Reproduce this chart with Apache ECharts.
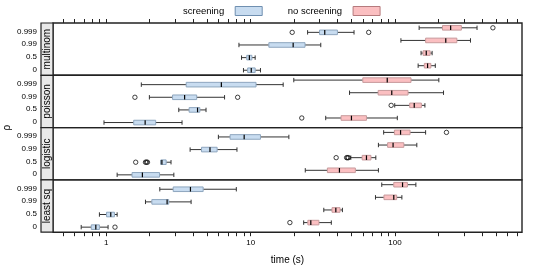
<!DOCTYPE html>
<html><head><meta charset="utf-8">
<script src="https://cdn.jsdelivr.net/npm/echarts@6/dist/echarts.min.js"></script>
<style>html,body{margin:0;padding:0;background:#fff}#c{width:535px;height:267px}</style>
</head><body><div id="c"></div>
<script>
const methods = ['multinom', 'poisson', 'logistic', 'least sq'];
const rhoLabels = ['0', '0.5', '0.99', '0.999'];
const groupNames = ['screening', 'no screening'];
const xTickValues = [0.5,0.6,0.7,0.8,0.9,1,2,3,4,5,6,7,8,9,10,20,30,40,50,60,70,80,90,100,200,300,400,500,600,700];
const xLabelValues = [1, 10, 100];

// rows: [rho index, lower whisker, Q1, median, Q3, upper whisker]
const multinomScreening = [[0,8.92,9.54,10.1,10.75,11.7],[1,8.65,9.40,9.80,10.2,10.75],[2,8.30,13.37,19.7,23.8,30.6],[3,24.8,30.0,32.6,39.9,52.0]];
const multinomNoScreening = [[0,144.5,159.5,168,177,190],[1,151.4,156.2,164.5,175,180.6],[2,109.8,162.8,224.5,267.9,333],[3,146.8,213,242.7,288,369.6]];
const poissonScreening = [[0,0.965,1.55,1.86,2.20,3.35],[1,3.18,3.75,4.29,4.45,4.91],[2,1.99,2.88,3.49,4.23,6.60],[3,1.75,3.58,6.27,10.9,16.8]];
const poissonNoScreening = [[0,33.1,42.3,49.9,63.4,103.7],[1,99.5,126.3,135.8,152.2,161],[2,48.4,76.4,94.9,123,216.6],[3,19.9,59.8,88.3,129,201]];
const logisticScreening = [[0,1.19,1.51,1.78,2.34,2.94],[1,2.39,2.39,2.43,2.60,2.81],[2,3.81,4.57,5.23,5.86,8.04],[3,5.98,7.21,9.02,11.7,18.4]];
const logisticNoScreening = [[0,23.9,34,41.2,53.1,76.7],[1,49.4,59.2,63.4,68.1,73.6],[2,76.7,88.8,96.9,115,141.5],[3,83.4,99,109.2,127,162.8]];
const leastSqScreening = [[0,0.671,0.788,0.847,0.897,1.03],[1,0.897,1.005,1.075,1.14,1.19],[2,1.87,2.07,2.64,2.71,3.87],[3,2.35,2.91,3.83,4.69,7.96]];
const leastSqNoScreening = [[0,23.3,24.9,26.1,29.7,36.2],[1,32.1,36.6,38.9,41.6,43.2],[2,73.2,83.8,98,102.6,111.5],[3,80.9,98,112.7,121.8,139.4]];

// outliers: [rho index, time]
const multinomScreeningOut = [[3,19.4],[3,65.7]];
const multinomNoScreeningOut = [[3,476]];
const poissonScreeningOut = [[2,1.58],[2,8.13]];
const poissonNoScreeningOut = [[0,22.6],[1,94]];
const logisticScreeningOut = [[1,1.60],[1,1.87],[1,1.90],[1,1.93]];
const logisticNoScreeningOut = [[1,39.1],[1,46.2],[1,46.9],[1,47.6],[3,227]];
const leastSqScreeningOut = [[0,1.15]];
const leastSqNoScreeningOut = [[0,18.7]];

const screeningByPanel = [multinomScreening, poissonScreening, logisticScreening, leastSqScreening];
const noScreeningByPanel = [multinomNoScreening, poissonNoScreening, logisticNoScreening, leastSqNoScreening];
const screeningOutByPanel = [multinomScreeningOut, poissonScreeningOut, logisticScreeningOut, leastSqScreeningOut];
const noScreeningOutByPanel = [multinomNoScreeningOut, poissonNoScreeningOut, logisticNoScreeningOut, leastSqNoScreeningOut];

const FONT = '"Liberation Sans", Arial, Helvetica, sans-serif';
const BLUE_FILL = '#c8dcf0', BLUE_STROKE = '#8ea6be';
const RED_FILL = '#fbbfc1', RED_STROKE = '#c79a9c';
const OFF_SCREEN = -0.18, OFF_NO = 0.18;

const plotLeft = 53, plotRight = 522, stripLeft = 41;
const firstTop = 23, panelH = 52.3;

function makeRender(off, fill, stroke) {
  return function (params, api) {
    const r = api.value(0) + off;
    const p = [1, 2, 3, 4, 5].map(k => api.coord([api.value(k), r]));
    const y = p[0][1];
    const h = 4.6, cap = 4.4;
    const ls = { stroke: '#333', lineWidth: 1 };
    return {
      type: 'group',
      children: [
        { type: 'line', shape: { x1: p[0][0], y1: y, x2: p[1][0], y2: y }, style: ls },
        { type: 'line', shape: { x1: p[3][0], y1: y, x2: p[4][0], y2: y }, style: ls },
        { type: 'line', shape: { x1: p[0][0], y1: y - cap / 2, x2: p[0][0], y2: y + cap / 2 }, style: ls },
        { type: 'line', shape: { x1: p[4][0], y1: y - cap / 2, x2: p[4][0], y2: y + cap / 2 }, style: ls },
        { type: 'rect', shape: { x: p[1][0], y: y - h / 2, width: Math.max(p[3][0] - p[1][0], 1), height: h }, style: { fill: fill, stroke: stroke, lineWidth: 1 } },
        { type: 'line', shape: { x1: p[2][0], y1: y - h / 2, x2: p[2][0], y2: y + h / 2 }, style: { stroke: '#000', lineWidth: 1.2 } }
      ]
    };
  };
}

const grids = [], xAxes = [], yAxes = [], series = [], graphics = [];
methods.forEach((m, i) => {
  const top = firstTop + i * panelH;
  grids.push({ left: plotLeft, width: plotRight - plotLeft, top: top, height: panelH, show: true, borderColor: '#222', borderWidth: 1.4, backgroundColor: 'transparent' });
  const isBottom = i === methods.length - 1, isTop = i === 0;
  xAxes.push({
    type: 'log', logBase: 10, gridIndex: i, min: 0.428, max: 757,
    position: isTop ? 'top' : 'bottom',
    axisLine: { show: false, onZero: false },
    splitLine: { show: false },
    axisTick: { show: isTop || isBottom, length: 4, lineStyle: { color: '#222', width: 1 }, customValues: xTickValues },
    axisLabel: { show: isBottom, customValues: xLabelValues, fontSize: 8, color: '#000', fontFamily: FONT, margin: 7,
      formatter: v => String(Math.round(v)) },
    name: isBottom ? 'time (s)' : '', nameLocation: 'middle', nameGap: 23,
    nameTextStyle: { fontSize: 10, color: '#000', fontFamily: FONT }
  });
  yAxes.push({
    type: 'value', gridIndex: i, min: -0.58, max: 3.56,
    axisLine: { show: false, onZero: false }, axisTick: { show: false }, splitLine: { show: false },
    axisLabel: { show: true, customValues: [-0.12, 0.88, 1.88, 2.88], formatter: v => rhoLabels[Math.round(v)], fontSize: 8, color: '#000', fontFamily: FONT, margin: 16 }
  });
  series.push({
    type: 'custom', name: groupNames[0], xAxisIndex: i, yAxisIndex: i,
    renderItem: makeRender(OFF_SCREEN, BLUE_FILL, BLUE_STROKE), itemStyle: { color: BLUE_FILL },
    encode: { x: [1, 2, 3, 4, 5], y: 0 }, data: screeningByPanel[i], silent: true
  });
  series.push({
    type: 'custom', name: groupNames[1], xAxisIndex: i, yAxisIndex: i,
    renderItem: makeRender(OFF_NO, RED_FILL, RED_STROKE), itemStyle: { color: RED_FILL },
    encode: { x: [1, 2, 3, 4, 5], y: 0 }, data: noScreeningByPanel[i], silent: true
  });
  series.push({
    type: 'scatter', name: groupNames[0], xAxisIndex: i, yAxisIndex: i, symbol: 'circle', symbolSize: 4.4,
    itemStyle: { color: 'rgba(255,255,255,0)', borderColor: '#111', borderWidth: 1 },
    data: screeningOutByPanel[i].map(d => [d[1], d[0] + OFF_SCREEN]), silent: true
  });
  series.push({
    type: 'scatter', name: groupNames[1], xAxisIndex: i, yAxisIndex: i, symbol: 'circle', symbolSize: 4.4,
    itemStyle: { color: 'rgba(255,255,255,0)', borderColor: '#111', borderWidth: 1 },
    data: noScreeningOutByPanel[i].map(d => [d[1], d[0] + OFF_NO]), silent: true
  });
  graphics.push({
    type: 'rect', shape: { x: stripLeft, y: top, width: plotLeft - stripLeft, height: panelH },
    style: { fill: '#e9e9e9', stroke: '#222', lineWidth: 1.2 }, z: 10
  });
  graphics.push({
    type: 'text', x: (stripLeft + plotLeft) / 2, y: top + panelH / 2, rotation: Math.PI / 2,
    style: { text: m, fontSize: 10, fontFamily: FONT, fill: '#000', align: 'center', verticalAlign: 'middle' }, z: 11
  });
});
graphics.push({
  type: 'text', x: 7, y: firstTop + 2 * panelH, rotation: Math.PI / 2,
  style: { text: 'ρ', fontSize: 10, fontFamily: FONT, fill: '#000', align: 'center', verticalAlign: 'middle' }
});

const chart = echarts.init(document.getElementById('c'), null, { renderer: 'canvas' });
chart.setOption({
  animation: false,
  backgroundColor: '#fff',
  textStyle: { fontFamily: FONT },
  legend: {
    left: 178, top: 1, align: 'right', itemWidth: 27, itemHeight: 9, itemGap: 25,
    textStyle: { fontSize: 9.5, color: '#000', fontFamily: FONT, padding: [0, 6, 0, 0] },
    data: [
      { name: groupNames[0], icon: 'rect', itemStyle: { color: BLUE_FILL, borderColor: '#6f8fb0', borderWidth: 1 } },
      { name: groupNames[1], icon: 'rect', itemStyle: { color: RED_FILL, borderColor: '#b57a7d', borderWidth: 1 } }
    ],
    selectedMode: false
  },
  grid: grids, xAxis: xAxes, yAxis: yAxes, series: series, graphic: graphics
});
</script></body></html>
